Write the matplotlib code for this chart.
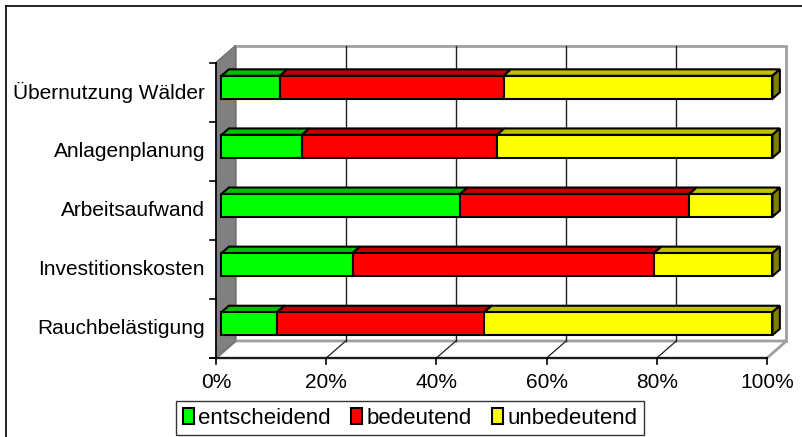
import matplotlib
matplotlib.use('Agg')
import matplotlib.pyplot as plt
from matplotlib.patches import Polygon, Patch
from matplotlib.lines import Line2D

plt.rcParams['font.family'] = ['Liberation Sans', 'DejaVu Sans']

# ---- data (bottom to top) ----
categories = ['Rauchbelästigung', 'Investitionskosten', 'Arbeitsaufwand',
              'Anlagenplanung', 'Übernutzung Wälder']
entscheidend = [10.1, 23.8, 43.3, 14.6, 10.6]
bedeutend = [37.6, 54.7, 41.6, 35.4, 40.6]
unbedeutend = [52.3, 21.5, 15.1, 50.0, 48.8]
series_names = ['entscheidend', 'bedeutend', 'unbedeutend']
x_ticks = [0, 20, 40, 60, 80, 100]
x_tick_labels = ['0%', '20%', '40%', '60%', '80%', '100%']

# ---- styles ----
front_colors = ['#00FF00', '#FF0000', '#FFFF00']
top_colors = ['#00C000', '#C00000', '#C0C000']
side_color = '#808000'

W, H = 803, 437
fig = plt.figure(figsize=(W / 100, H / 100), dpi=100)
ax = fig.add_axes([0, 0, 1, 1])
px_per_pct = 5.51
x0px = 216
y0px = 358
px_per_cat = 59.1
ax.set_xlim(-x0px / px_per_pct, (W - x0px) / px_per_pct)
ax.set_ylim((y0px - H) / px_per_cat, y0px / px_per_cat)
ax.axis('off')

DX = 19.5 / px_per_pct
DY = 17.0 / px_per_cat


def P(v, c, d):
    return (v + d * DX, c + d * DY)


n = len(categories)
xmax = x_ticks[-1]

# walls and floor
ax.add_patch(Polygon([P(0, 0, 1), P(xmax, 0, 1), P(xmax, n, 1), P(0, n, 1)],
                     closed=True, fc='white', ec='#A0A0A0', lw=2, zorder=1))
ax.add_patch(Polygon([P(0, 0, 0), P(xmax, 0, 0), P(xmax, 0, 1), P(0, 0, 1)],
                     closed=True, fc='white', ec='#A0A0A0', lw=2, zorder=1))
ax.add_patch(Polygon([P(0, 0, 0), P(0, n, 0), P(0, n, 1), P(0, 0, 1)],
                     closed=True, fc='#808080', ec='#707070', lw=1, zorder=2))

# gridlines
for t in x_ticks[1:-1]:
    a, b = P(t, 0, 1), P(t, n, 1)
    ax.plot([a[0], b[0]], [a[1], b[1]], color='#202020', lw=1, zorder=1.5)
    a, b = P(t, 0, 0), P(t, 0, 1)
    ax.plot([a[0], b[0]], [a[1], b[1]], color='#202020', lw=0.9, zorder=1.5)

# axes lines and ticks
tick_len_x = 6 / px_per_pct
tick_len_y = 6 / px_per_cat
ax.plot([0, 0], [0, n], color='black', lw=1.2, zorder=3)
for k in range(n + 1):
    ax.plot([-tick_len_x, 0], [k, k], color='black', lw=1.2, zorder=3)
ax.plot([-tick_len_x, xmax], [0, 0], color='black', lw=1.2, zorder=3)
for t in x_ticks:
    ax.plot([t, t], [0, -tick_len_y], color='black', lw=1.2, zorder=3)

# bars
d1, d2 = 0.28, 0.66
h = 11.5 / px_per_cat
series = [entscheidend, bedeutend, unbedeutend]
for i in range(n):
    yc = i + 0.5
    left = 0.0
    segs = []
    for s, vals in enumerate(series):
        segs.append((left, left + vals[i], s))
        left += vals[i]
    for (v0, v1, s) in segs:
        ax.add_patch(Polygon([P(v0, yc + h, d1), P(v1, yc + h, d1),
                              P(v1, yc + h, d2), P(v0, yc + h, d2)],
                             closed=True, fc=top_colors[s], ec='black',
                             lw=1.5, joinstyle='miter', zorder=4))
    v0, v1, s = segs[-1]
    ax.add_patch(Polygon([P(v1, yc - h, d1), P(v1, yc + h, d1),
                          P(v1, yc + h, d2), P(v1, yc - h, d2)],
                         closed=True, fc=side_color, ec='black',
                         lw=1.5, joinstyle='miter', zorder=4))
    for (v0, v1, s) in segs:
        a = P(v0, yc - h, d1)
        b = P(v1, yc + h, d1)
        ax.add_patch(Polygon([a, (b[0], a[1]), b, (a[0], b[1])], closed=True,
                             fc=front_colors[s], ec='black', lw=1.5,
                             joinstyle='miter', zorder=5))

# category labels
for i, cat in enumerate(categories):
    ax.text(-11 / px_per_pct, i + 0.5, cat, ha='right', va='center',
            fontsize=15, color='black')

# x tick labels
for t, lab in zip(x_ticks, x_tick_labels):
    ax.text(t, (y0px - 383) / px_per_cat, lab, ha='center', va='center',
            fontsize=15, color='black')

# legend
handles = [Patch(fc=c, ec='black', lw=1.5) for c in front_colors]
leg = fig.legend(handles, series_names, loc='center',
                 bbox_to_anchor=(410 / W, (H - 418) / H), ncol=3,
                 frameon=True, fancybox=False, edgecolor='black',
                 fontsize=16, handlelength=0.5, handleheight=0.7,
                 handletextpad=0.2, columnspacing=0.9, borderpad=0.3,
                 borderaxespad=0)
leg.get_frame().set_linewidth(1.0)

# outer border (left and top)
fig.add_artist(Line2D([6 / W, 6 / W], [0, 1 - 6 / H], transform=fig.transFigure,
                      color='black', lw=1.2))
fig.add_artist(Line2D([6 / W, 1], [1 - 6 / H, 1 - 6 / H], transform=fig.transFigure,
                      color='black', lw=1.2))

fig.savefig('out.png', dpi=100)
